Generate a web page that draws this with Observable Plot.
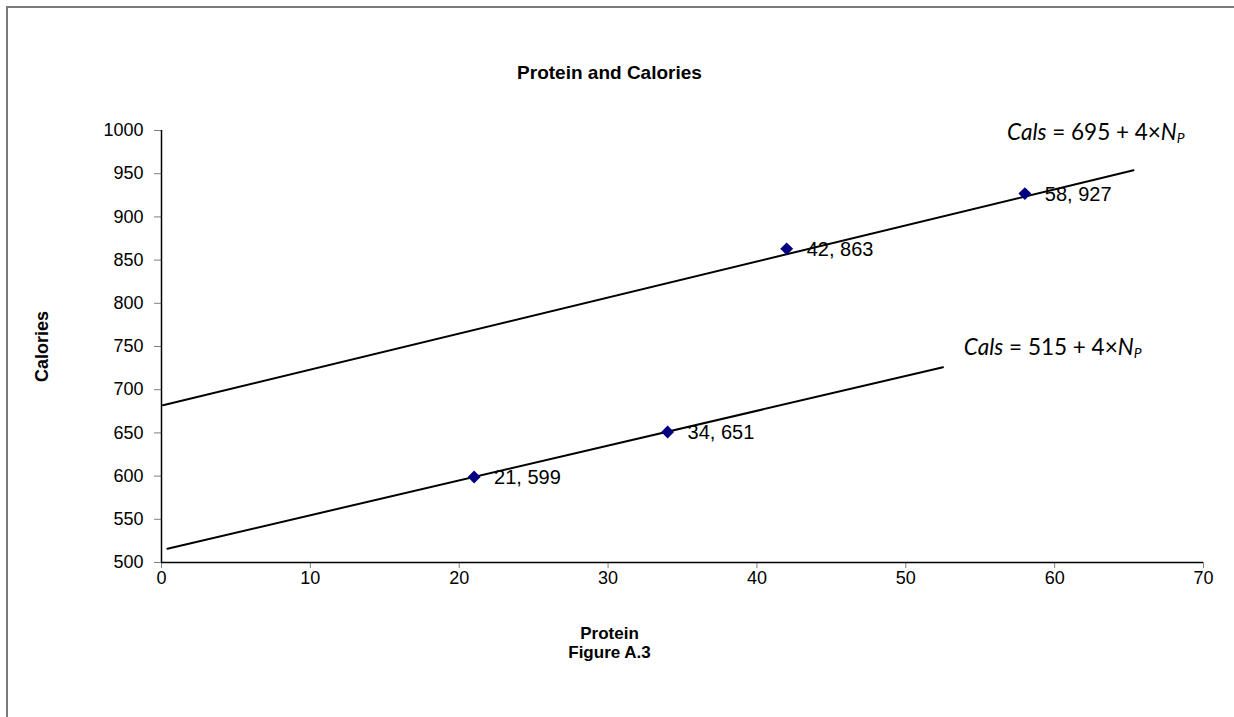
<!DOCTYPE html>
<html><head><meta charset="utf-8">
<script src="https://cdn.jsdelivr.net/npm/d3@7"></script>
<script src="https://cdn.jsdelivr.net/npm/@observablehq/plot@0.6"></script>
<style>
html,body{margin:0;padding:0;background:#fff;overflow:hidden;width:1234px;height:717px;}
#chart{position:absolute;left:0;top:0;}
#frame{position:absolute;left:6px;top:6px;width:1300px;height:800px;border:2px solid #7a7a7a;box-sizing:border-box;pointer-events:none;}
</style></head><body>
<div id="chart"></div><div id="frame"></div>
<script>
// ---- data ----
const protein = [21, 34, 42, 58];
const calories = [599, 651, 863, 927];
const xTicks = [0, 10, 20, 30, 40, 50, 60, 70];
const yTicks = [500, 550, 600, 650, 700, 750, 800, 850, 900, 950, 1000];
// hand-drawn trend lines (endpoints, data units)
const upperLineX = [0.1, 65.3];
const upperLineY = [682, 954];
const lowerLineX = [0.4, 52.5];
const lowerLineY = [516, 726];
// equation annotations
const eqIntercepts = [695, 515];
const eqSlope = 4;
const eqAnchorX = [56.8, 53.9];
const eqAnchorY = [997, 748];
const titleText = "Protein and Calories";
const xLabel = "Protein";
const caption = "Figure A.3";
const yLabel = "Calories";

// ---- derived tables ----
const points = protein.map((p, i) => ({x: p, y: calories[i], label: `${p}, ${calories[i]}`}));
const upper = upperLineX.map((x, i) => ({x, y: upperLineY[i]}));
const lower = lowerLineX.map((x, i) => ({x, y: lowerLineY[i]}));
const eqs = eqIntercepts.map((b, i) => ({x: eqAnchorX[i], y: eqAnchorY[i], b, text: `Cals = ${b} + ${eqSlope}×NP`}));

const font = "'Liberation Sans', Arial, sans-serif";
const chart = Plot.plot({
  width: 1234, height: 717,
  marginLeft: 161, marginRight: 31, marginTop: 130, marginBottom: 155,
  style: {fontFamily: font, fontSize: "18px", color: "#000", background: "transparent", overflow: "visible"},
  x: {domain: [0, 70]},
  y: {domain: [500, 1000]},
  marks: [
    Plot.axisX({ticks: xTicks, tickSize: 6, tickPadding: 3, stroke: "#808080", fill: "#000", label: null, tickFormat: d => String(d)}),
    Plot.axisY({ticks: yTicks, tickSize: 7, tickPadding: 11, stroke: "#808080", fill: "#000", label: null, tickFormat: d => String(d)}),
    Plot.ruleY([yTicks[0]], {stroke: "#000", strokeWidth: 1.5}),
    Plot.ruleX([xTicks[0]], {stroke: "#000", strokeWidth: 1.5}),
    Plot.line(upper, {x: "x", y: "y", stroke: "#000", strokeWidth: 2}),
    Plot.line(lower, {x: "x", y: "y", stroke: "#000", strokeWidth: 2}),
    Plot.dot(points, {x: "x", y: "y", symbol: "diamond2", r: 5.8, fill: "#000080", stroke: "none"}),
    Plot.text(points, {x: "x", y: "y", text: "label", textAnchor: "start", dx: 20, dy: 1, fontSize: 20, fill: "#000"}),
    Plot.text(eqs, {x: "x", y: "y", text: "text", textAnchor: "start", fontSize: 22.5, fontFamily: "Lato, 'Open Sans', sans-serif", fill: "#000", className: "eq"}),
    Plot.text([titleText], {text: d => d, frameAnchor: "top", lineAnchor: "middle", textAnchor: "middle", dx: -73, dy: -58, fontWeight: "bold", fontSize: 19}),
    Plot.text([xLabel], {text: d => d, frameAnchor: "bottom", lineAnchor: "middle", textAnchor: "middle", dx: -73, dy: 71, fontWeight: "bold", fontSize: 17}),
    Plot.text([caption], {text: d => d, frameAnchor: "bottom", lineAnchor: "middle", textAnchor: "middle", dx: -73, dy: 90, fontWeight: "bold", fontSize: 17}),
    Plot.text([yLabel], {text: d => d, frameAnchor: "left", lineAnchor: "middle", textAnchor: "middle", dx: -119, rotate: -90, fontWeight: "bold", fontSize: 18})
  ]
});
document.getElementById("chart").appendChild(chart);

// rich text for equations: italic Cals, italic N with subscript P
d3.select(chart).selectAll("g.eq text").each(function() {
  const t = d3.select(this);
  const m = this.textContent.match(/^Cals = (\d+) \+ (\d+)×NP$/);
  if (!m) return;
  t.text(null);
  t.append("tspan").attr("font-style", "italic").text("Cals");
  t.append("tspan").text(` = ${m[1]} + ${m[2]}×`);
  t.append("tspan").attr("font-style", "italic").text("N");
  t.append("tspan").attr("font-style", "italic").attr("font-size", "0.62em").attr("dy", "0.2em").text("P");
});
</script>
</body></html>
